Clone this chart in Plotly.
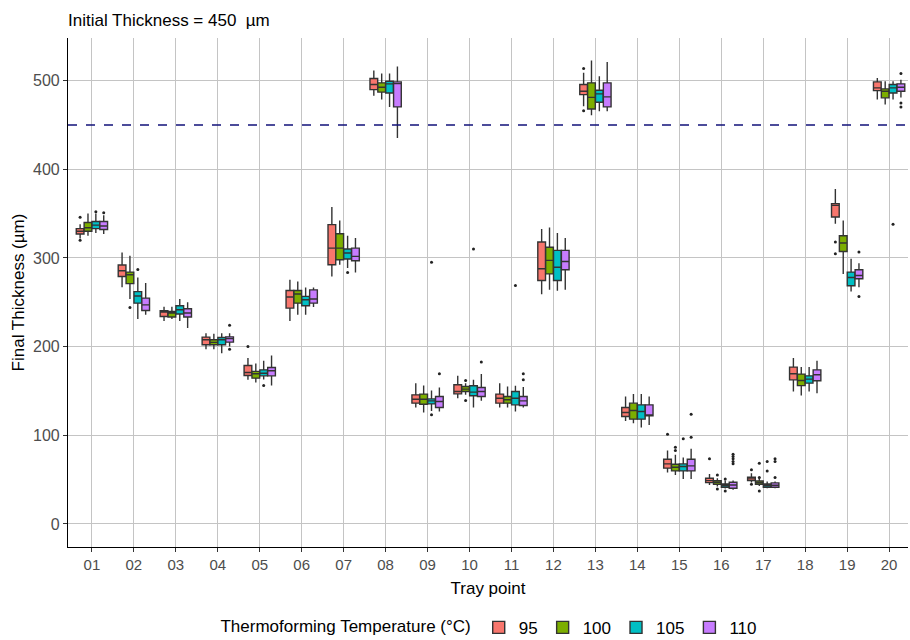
import plotly.graph_objects as go

# Tray points and thermoforming temperatures
tray_points = ["01", "02", "03", "04", "05", "06", "07", "08", "09", "10",
               "11", "12", "13", "14", "15", "16", "17", "18", "19", "20"]
temperatures = ["95", "100", "105", "110"]
colors = ["#F8766D", "#7CAE00", "#00BFC4", "#C77CFF"]
initial_thickness = 450

# Box statistics per temperature: lower whisker, Q1, median, Q3, upper whisker (µm)
lo_95 = [322, 267, 229, 197, 162.5, 229, 279, 483, 131.3, 141.8, 131.3, 259, 471, 116, 57.9, 44, 46.6, 149.3, 338.6, 478.6]
q1_95 = [327, 279, 234, 202, 167.4, 243.4, 292.3, 489.8, 136.2, 146.7, 136.2, 274.6, 484.2, 121.1, 62.9, 46.6, 48.9, 162.5, 346.2, 488.7]
md_95 = [330, 285.5, 239, 207.7, 170.8, 256, 311, 495.5, 140.7, 149.3, 141.8, 287.8, 488, 125.6, 67.7, 48.9, 50.8, 169.3, 359.3, 491.7]
q3_95 = [333, 292, 240.4, 210.7, 178.7, 263.3, 337.5, 502.3, 145.6, 156.9, 146.4, 318, 495.5, 131.3, 73, 51.6, 52.7, 176.9, 361.2, 498.5]
hi_95 = [338, 306, 245, 215, 187, 275.4, 357.4, 511.3, 158.8, 167, 158.8, 332.6, 508.7, 143.7, 82.7, 56.4, 57.2, 187, 377.7, 503]

lo_100 = [325, 253.6, 231, 197, 159.5, 236, 292.3, 478.6, 125.6, 145.6, 131.3, 264, 460.8, 113.6, 55.3, 42.1, 42.9, 144.8, 282, 472.9]
q1_100 = [330, 271, 233.3, 202, 164.4, 249, 298, 487, 135, 149.3, 136.2, 282, 468, 118.2, 59.8, 44.8, 44.8, 156, 307.3, 480.5]
md_100 = [334, 281, 237.8, 204.7, 169.3, 259.3, 311, 492.5, 140.7, 152, 140, 297.2, 481, 128, 64, 47, 46.6, 161.7, 316.8, 488]
q3_100 = [340, 284, 239.6, 207.7, 172, 263.3, 327.3, 497.4, 146.4, 155, 143.7, 312, 497.4, 136.2, 67.4, 48.9, 48.5, 169, 325, 490.6]
hi_100 = [350, 302.5, 245, 214.5, 181, 273.5, 342.3, 508, 156, 158.8, 155, 334.4, 522.6, 146.4, 77.9, 51.6, 51.6, 176.9, 342.3, 499.2]

lo_105 = [328, 231, 229, 192.6, 163, 236, 288.5, 470.3, 127.5, 131.3, 126.8, 263, 465.4, 108.7, 50.8, 40, 40.3, 149.3, 262, 478.6]
q1_105 = [333, 249, 236.7, 202, 167, 246, 298.8, 486, 135.4, 144.5, 134.3, 274.6, 475.5, 118.2, 59.8, 41.4, 41.4, 158.8, 268.6, 486]
md_105 = [337, 257, 241.5, 207.7, 170, 252.8, 305.5, 496.3, 138.8, 148.6, 141.8, 289.5, 485, 126.8, 64.7, 43.3, 43.3, 163.3, 278, 491.7]
q3_105 = [341, 262, 246, 210.3, 173.8, 256.6, 310, 499.2, 141, 155.8, 149.3, 308.5, 489, 134.3, 67.7, 45.1, 45.1, 167, 284, 495.5]
hi_105 = [350, 278, 253.6, 215, 184, 266.7, 325, 508, 150.5, 162.5, 155.8, 328, 505, 146.4, 74.8, 48.9, 47.8, 176.9, 299, 499.2]

lo_110 = [327, 236, 221, 200, 156, 244.6, 283.6, 435.3, 126.8, 138.8, 131.3, 264, 465.4, 111.7, 50.8, 38.5, 40.3, 147.5, 267, 481]
q1_110 = [332, 240.7, 233.3, 205, 167, 249, 296.8, 470.3, 131.3, 143.7, 133.5, 286.7, 470.3, 121.9, 59.8, 40.3, 41.4, 161.4, 276.5, 488]
md_110 = [336, 247, 237.8, 209, 172.7, 253.6, 301.7, 496.6, 138, 149.3, 138.8, 296, 481.6, 123, 65.5, 44, 43.7, 168.2, 280.2, 492.5]
q3_110 = [341, 254.7, 242.7, 211, 176.4, 264, 311, 498.5, 143.7, 153.8, 143.7, 308.5, 497.4, 134.3, 73, 47, 46.3, 173.8, 286.7, 496.3]
hi_110 = [348, 271.6, 250, 215, 190, 266.7, 322.5, 516, 153.8, 169, 154.3, 322.5, 521, 143.7, 84.7, 48.9, 48, 184, 294, 501]

# Outlying measurements: tray point and thickness (µm)
out_95_pt = ["01", "01", "05", "13", "13", "15", "16", "17", "17", "19", "19"]
out_95_val = [320, 346, 200, 513.5, 466, 101.2, 73.4, 61, 44.8, 318, 304.7]
out_100_pt = ["02", "10", "10", "15", "15", "16", "16", "17", "17", "17"]
out_100_val = [244, 161.7, 139.2, 86.5, 82.7, 55.3, 39.5, 68.5, 52.3, 37.2]
out_105_pt = ["01", "02", "05", "07", "09", "09", "10", "11", "15", "16", "16", "17", "17", "20"]
out_105_val = [352, 287, 156, 283.6, 295, 123, 310, 269, 96, 50.8, 37.2, 70.3, 59.8, 338]
out_110_pt = ["01", "04", "04", "09", "10", "11", "11", "15", "15", "16", "16", "16", "16", "16",
              "17", "17", "17", "19", "19", "20", "20", "20"]
out_110_val = [351, 224, 197, 169.3, 182.5, 169.3, 162.5, 123.8, 97.9, 78.7, 76, 73.4, 70.3, 68,
               73.4, 70.3, 52.3, 306.6, 256.6, 508, 474.8, 470.3]

stats = [
    (lo_95, q1_95, md_95, q3_95, hi_95, out_95_pt, out_95_val),
    (lo_100, q1_100, md_100, q3_100, hi_100, out_100_pt, out_100_val),
    (lo_105, q1_105, md_105, q3_105, hi_105, out_105_pt, out_105_val),
    (lo_110, q1_110, md_110, q3_110, hi_110, out_110_pt, out_110_val),
]

dodge = 0.75
box_w = dodge / len(temperatures)
pos = {p: i + 1 for i, p in enumerate(tray_points)}

fig = go.Figure()
for j, (temp, col, (lo, q1, md, q3, hi, opt, oval)) in enumerate(zip(temperatures, colors, stats)):
    off = (j - (len(temperatures) - 1) / 2) * box_w
    xs = [pos[p] + off for p in tray_points]
    fig.add_trace(go.Box(
        x=xs, lowerfence=lo, q1=q1, median=md, q3=q3, upperfence=hi,
        name=temp, legendgroup=temp, width=box_w * 0.98,
        fillcolor=col, line=dict(color="#333333", width=1.4),
        whiskerwidth=0, boxpoints=False, hoverinfo="skip",
    ))
    fig.add_trace(go.Scatter(
        x=[pos[p] + off for p in opt], y=oval, mode="markers",
        marker=dict(color="#222222", size=3), legendgroup=temp,
        showlegend=False, hoverinfo="skip",
    ))

# Reference line at the initial sheet thickness
fig.add_shape(type="line", xref="paper", x0=0, x1=1, yref="y",
              y0=initial_thickness, y1=initial_thickness,
              line=dict(color="#12127a", width=1.5, dash="dash"))

fig.update_layout(
    width=910, height=640,
    margin=dict(l=68, r=2, t=38, b=93, autoexpand=False),
    paper_bgcolor="white", plot_bgcolor="white",
    font=dict(family="Liberation Sans, Arial, sans-serif", color="#000000"),
    title=dict(text=f"Initial Thickness = {initial_thickness}  µm", x=0, xref="paper",
               xanchor="left", y=0.968, yanchor="middle",
               font=dict(size=17, color="#000000")),
    showlegend=True,
    legend=dict(orientation="h", x=0.539, xref="container", xanchor="center",
                y=0.019, yref="container", yanchor="middle",
                title=dict(text="Thermoforming Temperature (°C)", side="left",
                           font=dict(size=17)),
                font=dict(size=17), itemwidth=30, traceorder="normal"),
    xaxis=dict(range=[0.43, 20.45], tickmode="array",
               tickvals=[pos[p] for p in tray_points], ticktext=tray_points,
               showgrid=True, gridcolor="#c4c4c4", gridwidth=1.4,
               showline=True, linecolor="#000000", linewidth=1.2,
               ticks="outside", ticklen=4, tickcolor="#333333",
               tickfont=dict(size=15, color="#4d4d4d"), zeroline=False,
               title=dict(text="Tray point", font=dict(size=17), standoff=10)),
    yaxis=dict(range=[-26, 548], tickvals=[0, 100, 200, 300, 400, 500],
               showgrid=True, gridcolor="#c4c4c4", gridwidth=1.4,
               showline=True, linecolor="#000000", linewidth=1.2,
               ticks="outside", ticklen=4, tickcolor="#333333",
               tickfont=dict(size=16, color="#4d4d4d"), zeroline=False,
               title=dict(text="Final Thickness (µm)", font=dict(size=17), standoff=4)),
)

fig.write_html("out.html")
